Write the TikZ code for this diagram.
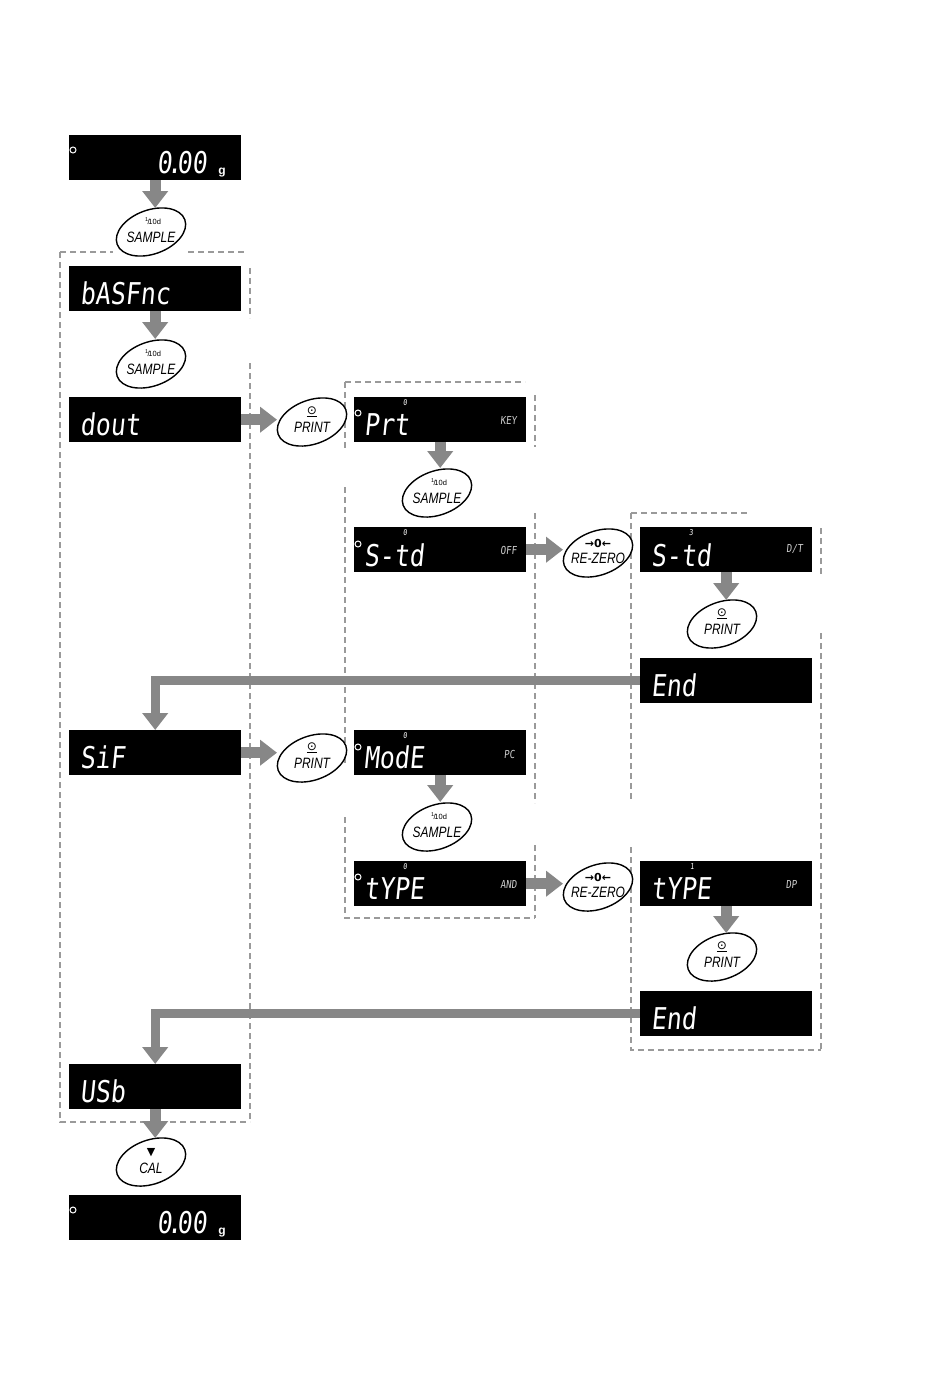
\documentclass[tikz,border=0pt]{standalone}
\usepackage{fontspec}
\setmainfont{Liberation Sans}
\newfontfamily\segfont[FakeStretch=0.83,FakeSlant=0.1]{DejaVu Sans Mono}
\newfontfamily\btnfont[FakeStretch=0.8]{Liberation Sans}
\newfontfamily\symfont{DejaVu Sans}
\usetikzlibrary{shapes.geometric,arrows.meta}
\definecolor{arrowgray}{HTML}{878787}
\definecolor{framegray}{HTML}{9A9A9A}
\newcommand{\tenthd}{{\fontsize{5.5}{5.5}\selectfont\raisebox{2.5pt}{1}}{\fontsize{7.5}{7.5}\selectfont\kern-0.6pt/\kern-1.2pt10d}}
\begin{document}
\begin{tikzpicture}[x=1pt,y=-1pt,
 disp/.style={fill=black,minimum width=172pt,minimum height=45pt,anchor=north west,inner sep=0pt,draw=none},
 seg/.style={text=white,font=\segfont\fontsize{30}{30}\selectfont,inner sep=0pt,anchor=base west},
 sdig/.style={text=white,font=\segfont\fontsize{8}{8}\selectfont,inner sep=0pt},
 tag/.style={text=white!80!black,font=\segfont\fontsize{11}{11}\selectfont,inner sep=0pt,anchor=east},
 btn/.style={ellipse,draw=black,line width=1.4pt,fill=white,minimum width=72pt,minimum height=44pt,inner sep=0pt,rotate=20},
 btxt/.style={font=\btnfont\itshape\fontsize{15}{15}\selectfont,inner sep=0pt},
 bsym/.style={font=\symfont\fontsize{12}{12}\selectfont,inner sep=0pt},
 garrow/.style={draw=arrowgray,line width=11pt,-{Triangle[length=17pt,width=25pt]}},
 gline/.style={draw=arrowgray,line width=9pt,-{Triangle[length=17pt,width=25pt]}},
 frame/.style={draw=framegray,line width=1.2pt,dash pattern=on 6pt off 4pt},
 ring/.style={circle,draw=white,line width=1pt,minimum size=6pt,inner sep=0pt}
]
\useasboundingbox (0,0) rectangle (950,1397);

% dashed frames
\draw[frame] (60,252) -- (113,252);
\draw[frame] (188,252) -- (245,252);
\draw[frame] (60,252) -- (60,1122) -- (250,1122);
\draw[frame] (250,268) -- (250,318);
\draw[frame] (250,363) -- (250,1122);

\draw[frame] (345,382) -- (525,382);
\draw[frame] (345,382) -- (345,450);
\draw[frame] (345,487) -- (345,763);
\draw[frame] (345,817) -- (345,918) -- (535,918);
\draw[frame] (535,395) -- (535,447);
\draw[frame] (535,513) -- (535,803);
\draw[frame] (535,845) -- (535,918);

\draw[frame] (631,513) -- (747,513);
\draw[frame] (631,513) -- (631,802);
\draw[frame] (631,847) -- (631,1050) -- (821,1050);
\draw[frame] (821,528) -- (821,577);
\draw[frame] (821,633) -- (821,1050);

% displays
\node[disp] (z1) at (69,135) {};
\node[disp] (bas) at (69,266) {};
\node[disp] (dout) at (69,397) {};
\node[disp] (prt) at (354,397) {};
\node[disp] (std1) at (354,527) {};
\node[disp] (std2) at (640,527) {};
\node[disp] (end1) at (640,658) {};
\node[disp] (sif) at (69,730) {};
\node[disp] (mode) at (354,730) {};
\node[disp] (typ1) at (354,861) {};
\node[disp] (typ2) at (640,861) {};
\node[disp] (end2) at (640,991) {};
\node[disp] (usb) at (69,1064) {};
\node[disp] (z2) at (69,1195) {};

% display texts
\node[ring] at (73,150) {};
\node[seg,anchor=base east] at (207,173) {0\kern-5pt.\kern-5pt00};
\node[text=white,font=\bfseries\fontsize{12}{12}\selectfont,inner sep=0pt,anchor=base] at (222,174) {g};
\node[ring] at (73,1210) {};
\node[seg,anchor=base east] at (207,1233) {0\kern-5pt.\kern-5pt00};
\node[text=white,font=\bfseries\fontsize{12}{12}\selectfont,inner sep=0pt,anchor=base] at (222,1234) {g};

\node[seg] at (80,304) {bASFnc};
\node[seg] at (80,435) {dout};
\node[seg] at (80,768) {SiF};
\node[seg] at (80,1102) {USb};

\node[ring] at (358,413) {};
\node[seg] at (364,435) {Prt};
\node[sdig] at (405,403) {0};
\node[tag] at (517,420) {KEY};

\node[ring] at (358,544) {};
\node[seg] at (364,566) {S-td};
\node[sdig] at (405,533) {0};
\node[tag] at (517,550) {OFF};

\node[seg] at (651,566) {S-td};
\node[sdig] at (691,533) {3};
\node[tag] at (803,549) {D/T};

\node[seg] at (651,696) {End};

\node[ring] at (358,747) {};
\node[seg] at (364,768) {ModE};
\node[sdig] at (405,736) {0};
\node[tag] at (515,754) {PC};

\node[ring] at (358,877) {};
\node[seg] at (364,899) {tYPE};
\node[sdig] at (405,867) {0};
\node[tag] at (517,884) {AND};

\node[seg] at (651,899) {tYPE};
\node[sdig] at (692,867) {1};
\node[tag] at (797,884) {DP};

\node[seg] at (651,1029) {End};

% buttons
\node[btn] (s1) at (151,232) {};
\node[btn] (s2) at (151,364) {};
\node[btn] (p1) at (312,422) {};
\node[btn] (s3) at (437,493) {};
\node[btn] (r1) at (598,553) {};
\node[btn] (p2) at (722,624) {};
\node[btn] (p3) at (312,758) {};
\node[btn] (s4) at (437,827) {};
\node[btn] (r2) at (598,887) {};
\node[btn] (p4) at (722,957) {};
\node[btn] (cal) at (151,1162) {};

\foreach \b in {s1,s2,s3,s4}{
  \node[inner sep=0pt] at ([shift={(2,-11)}]\b.center) {\tenthd};
  \node[btxt] at ([shift={(0,5)}]\b.center) {SAMPLE};
}
\foreach \b in {p1,p2,p3,p4}{
  \node[bsym] at ([shift={(0,-10)}]\b.center) {\underline{⊙}};
  \node[btxt] at ([shift={(0,5)}]\b.center) {PRINT};
}
\foreach \b in {r1,r2}{
  \node[bsym,font=\symfont\bfseries\fontsize{11}{11}\selectfont] at ([shift={(0,-10)}]\b.center) {→0←};
  \node[btxt] at ([shift={(0,5)}]\b.center) {RE-ZERO};
}
\node[bsym,font=\symfont\fontsize{11}{11}\selectfont] at ([shift={(0,-9)}]cal.center) {▼};
\node[btxt] at ([shift={(0,6)}]cal.center) {CAL};

% arrows
\draw[garrow,shorten >=24pt] (z1.south) -- (z1.south |- s1.center);
\draw[garrow,shorten >=25pt] (bas.south) -- (bas.south |- s2.center);
\draw[garrow,shorten >=35pt] (dout.east) -- (dout.east -| p1.center);
\draw[garrow,shorten >=25pt] (prt.south) -- (prt.south |- s3.center);
\draw[garrow,shorten >=35pt] (std1.east) -- (std1.east -| r1.center);
\draw[garrow,shorten >=24pt] (std2.south) -- (std2.south |- p2.center);
\draw[gline] (end1.west) -| (sif.north);
\draw[garrow,shorten >=35pt] (sif.east) -- (sif.east -| p3.center);
\draw[garrow,shorten >=25pt] (mode.south) -- (mode.south |- s4.center);
\draw[garrow,shorten >=35pt] (typ1.east) -- (typ1.east -| r2.center);
\draw[garrow,shorten >=24pt] (typ2.south) -- (typ2.south |- p4.center);
\draw[gline] (end2.west) -| (usb.north);
\draw[garrow,shorten >=24pt] (usb.south) -- (usb.south |- cal.center);
\end{tikzpicture}
\end{document}
